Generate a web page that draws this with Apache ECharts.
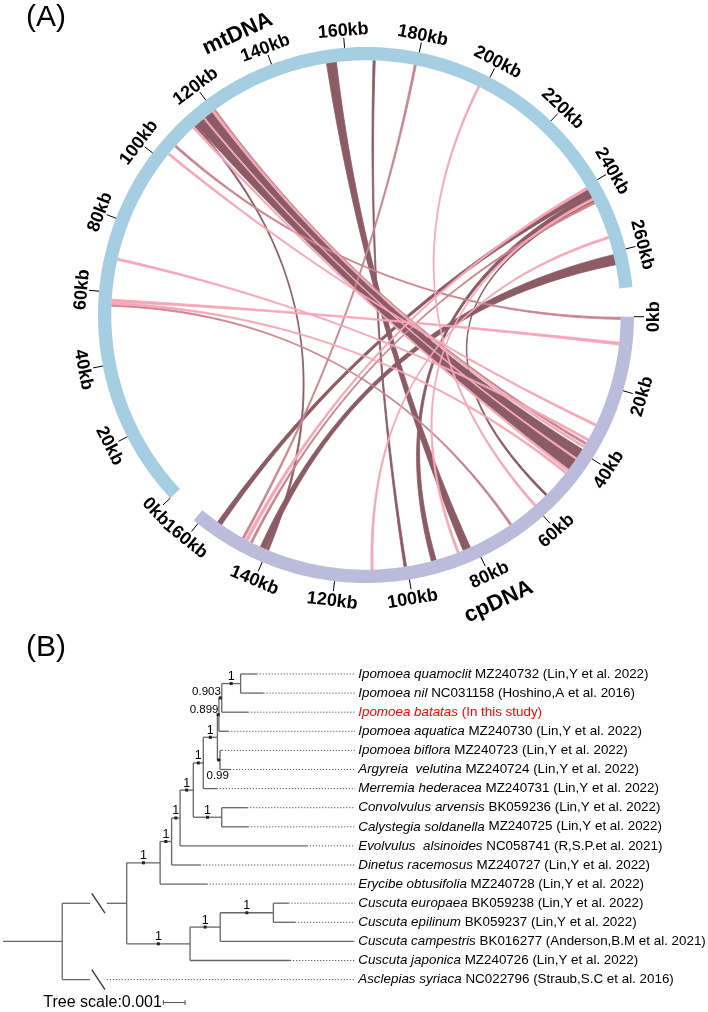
<!DOCTYPE html>
<html>
<head>
<meta charset="utf-8">
<title>mtDNA / cpDNA chord and phylogeny</title>
<script src="https://cdn.jsdelivr.net/npm/echarts@6.0.0/dist/echarts.min.js"></script>
<style>
html, body { margin: 0; padding: 0; background: #ffffff; }
#chart { width: 708px; height: 1012px; }
</style>
</head>
<body>
<div id="chart"></div>
<script>
// ================= Panel A data (kb) =================
const segmentNames = ['mtDNA', 'cpDNA'];
const segmentLengths = [270.3, 161.4];
const segmentGaps = [7.9, 8.6];
const mtTicks = [0, 20, 40, 60, 80, 100, 120, 140, 160, 180, 200, 220, 240, 260];
const cpTicks = [0, 20, 40, 60, 80, 100, 120, 140, 160];

// links: mtDNA range <-> cpDNA range, class 0 = dark, 1 = medium, 2 = light
const linkMtStart = [154.6, 167.7, 113.7, 116.8, 113.1, 260.7, 241.0, 242.4, 244.4,
                     179.3, 105.1, 56.1, 120.1, 244.9,
                     198.2, 112.4, 119.5, 102.2, 69.1, 57.3, 56.6, 240.3, 243.8, 255.4, 116.4];
const linkMtEnd   = [157.4, 168.3, 116.4, 119.4, 113.6, 263.6, 242.4, 243.8, 244.9,
                     179.9, 105.7, 56.6, 120.6, 245.5,
                     198.7, 113.0, 120.1, 102.8, 69.7, 58.1, 57.2, 241.0, 244.4, 256.0, 116.8];
const linkCpStart = [81.5, 100.2, 42.6, 39.2, 139.6, 140.4, 154.6, 91.7, 55.2,
                     147.2, 0.2, 68.2, 37.0, 144.6,
                     59.5, 46.0, 38.0, 31.1, 35.8, 7.2, 46.9, 145.9, 84.9, 109.6, 42.1];
const linkCpEnd   = [83.7, 100.9, 45.9, 42.0, 140.2, 142.1, 156.0, 93.1, 55.8,
                     147.8, 0.8, 68.8, 37.6, 145.2,
                     60.1, 46.6, 38.6, 31.7, 36.4, 8.0, 47.5, 146.8, 85.5, 110.2, 42.5];
const linkClass   = [0, 0, 0, 0, 0, 0, 0, 0, 0,
                     1, 1, 1, 1, 1,
                     2, 2, 2, 2, 2, 2, 2, 2, 2, 2, 2];

// ================= Panel B data (branch lengths in units of 0.001) =================
const leafSpecies = ['Ipomoea quamoclit', 'Ipomoea nil', 'Ipomoea batatas', 'Ipomoea aquatica',
  'Ipomoea biflora', 'Argyreia  velutina', 'Merremia hederacea', 'Convolvulus arvensis',
  'Calystegia soldanella', 'Evolvulus  alsinoides', 'Dinetus racemosus', 'Erycibe obtusifolia',
  'Cuscuta europaea', 'Cuscuta epilinum', 'Cuscuta campestris', 'Cuscuta japonica', 'Asclepias syriaca'];
const leafRefs = ['MZ240732 (Lin,Y et al. 2022)', 'NC031158 (Hoshino,A et al. 2016)', '(In this study)',
  'MZ240730 (Lin,Y et al. 2022)', 'MZ240723 (Lin,Y et al. 2022)', 'MZ240724 (Lin,Y et al. 2022)',
  'MZ240731 (Lin,Y et al. 2022)', 'BK059236 (Lin,Y et al. 2022)', 'MZ240725 (Lin,Y et al. 2022)',
  'NC058741 (R,S.P.et al. 2021)', 'MZ240727 (Lin,Y et al. 2022)', 'MZ240728 (Lin,Y et al. 2022)',
  'BK059238 (Lin,Y et al. 2022)', 'BK059237 (Lin,Y et al. 2022)', 'BK016277 (Anderson,B.M et al. 2021)',
  'MZ240726 (Lin,Y et al. 2022)', 'NC022796 (Straub,S.C et al. 2016)'];
const leafParent = [27, 27, 26, 25, 28, 28, 23, 29, 29, 21, 20, 19, 32, 32, 31, 30, 17];
const leafDepth = [11.69, 12.0, 11.30, 10.38, 10.08, 10.46, 9.85, 11.25, 11.30, 14.0, 9.08, 9.39,
  13.15, 13.46, 16.14, 13.23, 4.78];
// internal nodes, ids 17..32
const innerParent = [-1, 17, 18, 19, 20, 21, 22, 23, 24, 25, 26, 24, 22, 18, 30, 31];
const innerDepth = [2.73, 5.70, 7.24, 7.77, 8.16, 8.77, 9.23, 9.88, 9.95, 10.08, 10.95, 10.0, 10.08, 8.62, 10.01, 12.46];
const innerSupport = ['', '', '1', '1', '1', '1', '1', '1', '0.899', '0.903', '1', '0.99', '1', '1', '1', '1'];
const highlightLeaf = 2;
const brokenBranches = [18, 16];
const treeScaleLength = 1; // = 0.001

// ================= Layout / style constants =================
const FONT = "'Liberation Sans', Arial, Helvetica, sans-serif";
const R_OUT = 268, R_IN = 254.7, TICK_END = 278;
const ringColors = ['#a6cee3', '#bcbbdb'];
const linkColors = ['#8b5b66', '#c8858f', '#f5a7b7'];
const TREE_COLOR = '#666666';
const NLEAF = leafSpecies.length;

const offsets = [0, segmentLengths[0] + segmentGaps[0]];
const totalKb = segmentLengths[0] + segmentGaps[0] + segmentLengths[1] + segmentGaps[1];

const ringData = segmentLengths.map((len, i) => [offsets[i], offsets[i] + len, i]);
const tickData = [];
mtTicks.forEach(t => tickData.push([offsets[0] + t, t, 0]));
cpTicks.forEach(t => tickData.push([offsets[1] + t, t, 1]));
const segLabelData = segmentLengths.map((len, i) => [offsets[i] + len / 2, i]);
const linkData = linkMtStart.map((s, i) => [s, linkMtEnd[i], offsets[1] + linkCpStart[i], offsets[1] + linkCpEnd[i], linkClass[i]]);

function arcPts(api, r, v0, v1, n) {
  const pts = [];
  for (let i = 0; i <= n; i++) pts.push(api.coord([r, v0 + (v1 - v0) * i / n]));
  return pts;
}
function quadPts(p0, c, p2, n) {
  const out = [];
  for (let i = 1; i < n; i++) {
    const t = i / n, u = 1 - t;
    out.push([u * u * p0[0] + 2 * u * t * c[0] + t * t * p2[0], u * u * p0[1] + 2 * u * t * c[1] + t * t * p2[1]]);
  }
  return out;
}
function facing(api, v) {
  const p = api.coord([R_OUT, v]);
  const c = api.coord([0, v]);
  const th = Math.atan2(p[0] - c[0], -(p[1] - c[1]));
  let deg = th * 180 / Math.PI; if (deg < 0) deg += 360;
  const bottom = deg > 85 && deg < 265;
  return { bottom: bottom, rotation: bottom ? -(th - Math.PI) : -th };
}

// ================= Tree layout from topology =================
const nodeDepth = leafDepth.concat(innerDepth);
const nodeParent = leafParent.concat(innerParent);
const nodeY = new Array(nodeDepth.length).fill(null);
const kids = nodeDepth.map(() => []);
nodeParent.forEach((p, i) => { if (p >= 0) kids[p].push(i); });
function yOf(i) {
  if (nodeY[i] !== null) return nodeY[i];
  if (i < NLEAF) nodeY[i] = i;
  else { const ys = kids[i].map(yOf); nodeY[i] = (Math.min.apply(null, ys) + Math.max.apply(null, ys)) / 2; }
  return nodeY[i];
}
nodeDepth.forEach((d, i) => yOf(i));
const edgeData = nodeDepth.map((d, i) => {
  const p = nodeParent[i];
  return [d, nodeY[i], p >= 0 ? nodeDepth[p] : 0, p >= 0 ? nodeY[p] : nodeY[i], brokenBranches.indexOf(i) >= 0 ? 1 : 0];
});
const leafData = leafDepth.map((d, i) => [d, i]);
const supportData = [];
innerSupport.forEach((s, k) => {
  if (!s) return;
  const id = NLEAF + k;
  supportData.push([nodeDepth[id], nodeY[id], nodeDepth[nodeParent[id]], k]);
});
const BREAK_FROM = 4.01, BREAK_TO = 4.78, MARK0 = 4.09, MARK1 = 4.70;
const LEADER_END = 16.22, LABEL_X = 16.37;

const chart = echarts.init(document.getElementById('chart'), null, { renderer: 'canvas' });
const option = {
  animation: false,
  backgroundColor: '#ffffff',
  polar: { center: [366, 315], radius: R_OUT },
  angleAxis: {
    type: 'value', min: 0, max: totalKb, startAngle: 223.1, clockwise: true,
    axisLine: { show: false }, axisTick: { show: false }, axisLabel: { show: false }, splitLine: { show: false }
  },
  radiusAxis: {
    type: 'value', min: 0, max: R_OUT,
    axisLine: { show: false }, axisTick: { show: false }, axisLabel: { show: false }, splitLine: { show: false }
  },
  grid: { left: 3, top: 664.45, width: 16.5 * 21.7, height: 18 * 19.1 },
  xAxis: { type: 'value', min: 0, max: 16.5, show: false },
  yAxis: { type: 'value', min: -0.5, max: 17.5, inverse: true, show: false },
  graphic: [
    { type: 'text', x: 26, y: 18, style: { text: '(A)', fontSize: 30, fontFamily: FONT, fill: '#000', align: 'left', verticalAlign: 'middle' } },
    { type: 'text', x: 26, y: 648, style: { text: '(B)', fontSize: 30, fontFamily: FONT, fill: '#000', align: 'left', verticalAlign: 'middle' } }
  ],
  series: [
    { // links
      type: 'custom', coordinateSystem: 'polar', data: linkData, silent: true,
      renderItem: function (params, api) {
        const a1 = api.value(0), a2 = api.value(1), b1 = api.value(2), b2 = api.value(3), k = api.value(4);
        const c = api.coord([0, a1]);
        const arcA = arcPts(api, R_IN, a1, a2, Math.max(2, Math.ceil((a2 - a1) * 3)));
        const arcB = arcPts(api, R_IN, b1, b2, Math.max(2, Math.ceil((b2 - b1) * 3)));
        const pts = arcA.concat(quadPts(arcA[arcA.length - 1], c, arcB[0], 80), arcB, quadPts(arcB[arcB.length - 1], c, arcA[0], 80));
        return { type: 'polygon', shape: { points: pts }, style: { fill: linkColors[k], stroke: linkColors[k], lineWidth: 0.8 } };
      }
    },
    { // ring segments
      type: 'custom', coordinateSystem: 'polar', data: ringData, silent: true,
      renderItem: function (params, api) {
        const v0 = api.value(0), v1 = api.value(1), k = api.value(2);
        const outer = arcPts(api, R_OUT, v0, v1, 200);
        const inner = arcPts(api, R_IN, v1, v0, 200);
        return { type: 'polygon', shape: { points: outer.concat(inner) }, style: { fill: ringColors[k] } };
      }
    },
    { // ticks and tick labels
      type: 'custom', coordinateSystem: 'polar', data: tickData, silent: true,
      renderItem: function (params, api) {
        const v = api.value(0), kb = api.value(1);
        const p0 = api.coord([R_OUT, v]), p1 = api.coord([TICK_END, v]);
        const f = facing(api, v);
        const pl = api.coord([f.bottom ? 288 : 285, v]);
        return { type: 'group', children: [
          { type: 'line', shape: { x1: p0[0], y1: p0[1], x2: p1[0], y2: p1[1] }, style: { stroke: '#000', lineWidth: 1 } },
          { type: 'text', x: pl[0], y: pl[1], rotation: f.rotation,
            style: { text: kb + 'kb', fontSize: 18, fontWeight: 'bold', fontFamily: FONT, fill: '#000', align: 'center', verticalAlign: 'middle' } }
        ] };
      }
    },
    { // segment names
      type: 'custom', coordinateSystem: 'polar', data: segLabelData, silent: true,
      renderItem: function (params, api) {
        const v = api.value(0), k = api.value(1);
        const f = facing(api, v);
        const p = api.coord([k === 0 ? 309 : 316, v]);
        return { type: 'text', x: p[0], y: p[1], rotation: f.rotation,
          style: { text: segmentNames[k], fontSize: 22, fontWeight: 'bold', fontFamily: FONT, fill: '#000', align: 'center', verticalAlign: 'middle' } };
      }
    },
    { // tree branches
      type: 'custom', coordinateSystem: 'cartesian2d', data: edgeData, silent: true,
      renderItem: function (params, api) {
        const cd = api.value(0), cy = api.value(1), pd = api.value(2), py = api.value(3), br = api.value(4);
        const ls = { stroke: TREE_COLOR, lineWidth: 1.3 };
        const L = (a, b, st) => ({ type: 'line', shape: { x1: a[0], y1: a[1], x2: b[0], y2: b[1] }, style: st || ls });
        const v0 = api.coord([pd, py]), v1 = api.coord([pd, cy]), e = api.coord([cd, cy]);
        const ch = [L(v0, v1)];
        if (br) {
          ch.push(L(v1, api.coord([BREAK_FROM, cy])));
          if (cd > BREAK_TO) ch.push(L(api.coord([BREAK_TO, cy]), e));
          ch.push(L(api.coord([MARK0, cy - 0.52]), api.coord([MARK1, cy + 0.52]), { stroke: '#333', lineWidth: 1.3 }));
        } else {
          ch.push(L(v1, e));
        }
        return { type: 'group', children: ch };
      }
    },
    { // leaders and leaf labels
      type: 'custom', coordinateSystem: 'cartesian2d', data: leafData, silent: true,
      renderItem: function (params, api) {
        const d = api.value(0), i = api.value(1);
        const a = api.coord([d, i]), b = api.coord([LEADER_END, i]), t = api.coord([LABEL_X, i]);
        const col = i === highlightLeaf ? '#ff0000' : '#000000';
        return { type: 'group', children: [
          { type: 'line', shape: { x1: a[0], y1: a[1], x2: b[0], y2: b[1] }, style: { stroke: '#555', lineWidth: 1, lineDash: [1.2, 1.8] } },
          { type: 'text', x: t[0], y: t[1],
            style: { text: '{i|' + leafSpecies[i] + '} ' + leafRefs[i], fontSize: 13.4, fontFamily: FONT, fill: col,
              align: 'left', verticalAlign: 'middle',
              rich: { i: { fontStyle: 'italic', fontSize: 13.4, fontFamily: FONT, fill: col } } } }
        ] };
      }
    },
    { // support values and node markers
      type: 'custom', coordinateSystem: 'cartesian2d', data: supportData, silent: true,
      renderItem: function (params, api) {
        const nd = api.value(0), ny = api.value(1), pd = api.value(2), k = api.value(3);
        const s = innerSupport[k];
        const m = api.coord([(nd + pd) / 2, ny]);
        let tx = m[0], ty = m[1] - 7, align = 'center', fs = 12.5;
        if (s === '0.903') { tx = m[0] + 0.5; ty = m[1] - 6; align = 'right'; fs = 11.5; }
        else if (s === '0.899') { tx = m[0] + 0.3; ty = m[1] - 5; align = 'right'; fs = 11.5; }
        else if (s === '0.99') { tx = m[0] - 1; ty = m[1] + 16; fs = 11.5; }
        return { type: 'group', children: [
          { type: 'rect', shape: { x: m[0] - 1.5, y: m[1] - 1.5, width: 3, height: 3 }, style: { fill: '#222' } },
          { type: 'text', x: tx, y: ty, style: { text: s, fontSize: fs, fontFamily: FONT, fill: '#000', align: align, verticalAlign: 'middle' } }
        ] };
      }
    },
    { // tree scale bar
      type: 'custom', coordinateSystem: 'cartesian2d', data: [[7.39, 17.2]], silent: true,
      renderItem: function (params, api) {
        const x0 = api.value(0), y = api.value(1);
        const a = api.coord([x0, y]), b = api.coord([x0 + treeScaleLength, y]);
        const st = { stroke: '#555', lineWidth: 1 };
        return { type: 'group', children: [
          { type: 'line', shape: { x1: a[0], y1: a[1], x2: b[0], y2: b[1] }, style: st },
          { type: 'line', shape: { x1: a[0], y1: a[1] - 2.5, x2: a[0], y2: a[1] + 2.5 }, style: st },
          { type: 'line', shape: { x1: b[0], y1: b[1] - 2.5, x2: b[0], y2: b[1] + 2.5 }, style: st },
          { type: 'text', x: a[0] - 1.5, y: a[1], style: { text: 'Tree scale:0.001', fontSize: 16, fontFamily: FONT, fill: '#000', align: 'right', verticalAlign: 'middle' } }
        ] };
      }
    }
  ]
};
chart.setOption(option);
</script>
</body>
</html>
